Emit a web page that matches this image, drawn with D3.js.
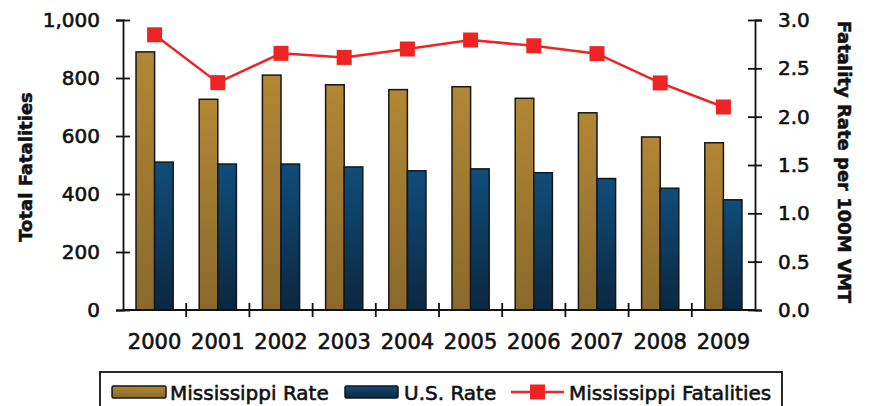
<!DOCTYPE html>
<html lang="en">
<head>
<meta charset="UTF-8">
<title>Mississippi Fatalities and Rates</title>
<script src="https://d3js.org/d3.v7.min.js"></script>
<style>
  body { margin: 0; background: #fff; }
  text { font-family: "DejaVu Sans", sans-serif; fill: #111; stroke: #111; stroke-width: 0.6px; }
  text.title { stroke-width: 0.5px; }
</style>
</head>
<body>
<svg id="chart" width="869" height="406"></svg>
<script>
// data
const years = ["2000", "2001", "2002", "2003", "2004", "2005", "2006", "2007", "2008", "2009"];
const msRate = [2.67, 2.18, 2.43, 2.33, 2.28, 2.31, 2.19, 2.04, 1.79, 1.73];
const usRate = [1.53, 1.51, 1.51, 1.48, 1.44, 1.46, 1.42, 1.36, 1.26, 1.14];
const msFatalities = [949, 784, 885, 871, 900, 931, 911, 884, 783, 700];
const leftTicks = [0, 200, 400, 600, 800, 1000];
const rightTicks = [0, 0.5, 1.0, 1.5, 2.0, 2.5, 3.0];

const svg = d3.select("#chart");
const plotLeft = 123, plotRight = 755, plotTop = 20, plotBottom = 310;

const defs = svg.append("defs");
function grad(id, c1, c2) {
    const g = defs.append("linearGradient").attr("id", id)
        .attr("x1", 0).attr("y1", 0).attr("x2", 0).attr("y2", 1);
    g.append("stop").attr("offset", "0%").attr("stop-color", c1);
    g.append("stop").attr("offset", "100%").attr("stop-color", c2);
}
grad("gold", "#b28735", "#8a692c");
grad("navy", "#104d7a", "#0b2740");

const x = d3.scaleBand().domain(years).range([plotLeft, plotRight]).padding(0);
const sub = d3.scaleBand().domain(["ms", "us"]).range([0, x.bandwidth()])
    .paddingInner(0).paddingOuter(0.7);
const yL = d3.scaleLinear().domain([0, 1000]).range([plotBottom, plotTop]);
const yR = d3.scaleLinear().domain([0, 3]).range([plotBottom, plotTop]);

// bars
const groups = svg.append("g").selectAll("g")
    .data(years).join("g")
    .attr("transform", d => `translate(${x(d)},0)`);

groups.append("rect")
    .attr("x", sub("ms"))
    .attr("width", sub.bandwidth())
    .attr("y", (d, i) => yR(msRate[i]))
    .attr("height", (d, i) => plotBottom - yR(msRate[i]))
    .attr("fill", "url(#gold)")
    .attr("stroke", "#161616").attr("stroke-width", 1.5);

groups.append("rect")
    .attr("x", sub("us"))
    .attr("width", sub.bandwidth())
    .attr("y", (d, i) => yR(usRate[i]))
    .attr("height", (d, i) => plotBottom - yR(usRate[i]))
    .attr("fill", "url(#navy)")
    .attr("stroke", "#161616").attr("stroke-width", 1.5);

// left axis
const axL = svg.append("g").attr("transform", `translate(${plotLeft},0)`)
    .call(d3.axisLeft(yL).tickValues(leftTicks).tickSize(7).tickPadding(16)
        .tickFormat(d3.format(",")));
axL.selectAll(".tick line").attr("x1", -7).attr("x2", 7);

// right axis
const axR = svg.append("g").attr("transform", `translate(${plotRight},0)`)
    .call(d3.axisRight(yR).tickValues(rightTicks).tickSize(7).tickPadding(16)
        .tickFormat(d3.format(".1f")));
axR.selectAll(".tick line").attr("x1", -7).attr("x2", 7);

[axL, axR].forEach(a => {
    a.select(".domain").attr("stroke", "#111").attr("stroke-width", 1.8);
    a.selectAll(".tick line").attr("stroke", "#111").attr("stroke-width", 1.8);
    a.selectAll("text").attr("font-size", 20).attr("fill", "#111")
        .attr("font-family", "DejaVu Sans");
});

// x axis
const xAxis = svg.append("g");
xAxis.append("line")
    .attr("x1", plotLeft).attr("x2", plotRight).attr("y1", plotBottom).attr("y2", plotBottom)
    .attr("stroke", "#111").attr("stroke-width", 1.8);
xAxis.selectAll("line.tk")
    .data(years.slice(1)).join("line").attr("class", "tk")
    .attr("x1", d => x(d)).attr("x2", d => x(d))
    .attr("y1", plotBottom - 7).attr("y2", plotBottom + 7)
    .attr("stroke", "#111").attr("stroke-width", 1.8);
xAxis.selectAll("text")
    .data(years).join("text")
    .attr("x", d => x(d) + x.bandwidth() / 2)
    .attr("y", 349)
    .attr("text-anchor", "middle")
    .attr("font-size", 21)
    .text(d => d);

// fatalities line
const line = d3.line()
    .x((d, i) => x(years[i]) + x.bandwidth() / 2)
    .y(d => yL(d));
svg.append("path").datum(msFatalities)
    .attr("d", line)
    .attr("fill", "none").attr("stroke", "#ee2424").attr("stroke-width", 2.5);
svg.append("g").selectAll("rect")
    .data(msFatalities).join("rect")
    .attr("x", (d, i) => x(years[i]) + x.bandwidth() / 2 - 7.5)
    .attr("y", d => yL(d) - 7.5)
    .attr("width", 15).attr("height", 15)
    .attr("fill", "#ee2424");

// axis titles
svg.append("text").attr("class", "title")
    .attr("transform", "translate(32,167) rotate(-90)")
    .attr("text-anchor", "middle")
    .attr("font-size", 18).attr("font-weight", "bold")
    .text("Total Fatalities");
svg.append("text").attr("class", "title")
    .attr("transform", "translate(838,162) rotate(90)")
    .attr("text-anchor", "middle")
    .attr("font-size", 18).attr("font-weight", "bold")
    .text("Fatality Rate per 100M VMT");

// legend
const lg = svg.append("g");
lg.append("rect")
    .attr("x", 100).attr("y", 372).attr("width", 682).attr("height", 60)
    .attr("fill", "#fff").attr("stroke", "#111").attr("stroke-width", 1.8);
lg.append("rect").attr("x", 112).attr("y", 386).attr("width", 54).attr("height", 12)
    .attr("rx", 1.5).attr("fill", "url(#gold)").attr("stroke", "#161616").attr("stroke-width", 1.5);
lg.append("text").attr("x", 170).attr("y", 400).attr("font-size", 20).text("Mississippi Rate");
lg.append("rect").attr("x", 345).attr("y", 386).attr("width", 53).attr("height", 12)
    .attr("rx", 1.5).attr("fill", "url(#navy)").attr("stroke", "#161616").attr("stroke-width", 1.5);
lg.append("text").attr("x", 404).attr("y", 400).attr("font-size", 20).text("U.S. Rate");
lg.append("line").attr("x1", 511).attr("x2", 564).attr("y1", 392).attr("y2", 392)
    .attr("stroke", "#ee2424").attr("stroke-width", 2.5);
lg.append("rect").attr("x", 530).attr("y", 384.5).attr("width", 15).attr("height", 15)
    .attr("fill", "#ee2424");
lg.append("text").attr("x", 569).attr("y", 400).attr("font-size", 20).text("Mississippi Fatalities");
</script>
</body>
</html>
